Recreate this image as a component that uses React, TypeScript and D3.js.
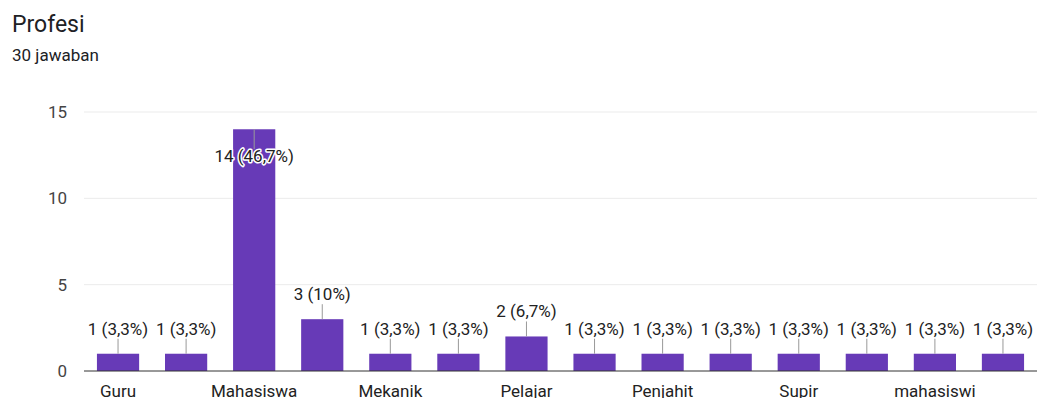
import React from "react";
import * as d3 from "d3";

const categories = [
  "Guru", "Karyawan", "Mahasiswa", "Mahasiswi", "Mekanik", "Pedagang", "Pelajar",
  "Pelaut", "Penjahit", "Petani", "Supir", "Wiraswasta", "mahasiswi", "pelajar",
];
const values = [1, 1, 14, 3, 1, 1, 2, 1, 1, 1, 1, 1, 1, 1];
const percentLabels = ["3,3%", "3,3%", "46,7%", "10%", "3,3%", "3,3%", "6,7%", "3,3%", "3,3%", "3,3%", "3,3%", "3,3%", "3,3%", "3,3%"];
const yTicks = [0, 5, 10, 15];
const title = "Profesi";
const subtitle = "30 jawaban";

const W = 1042;
const H = 398;
const left = 84;
const right = 1037;
const top = 112;
const bottom = 371;

export default function App() {
  const x = d3.scaleBand<string>().domain(categories).range([left, right]).paddingInner(0.38).paddingOuter(0.19);
  const y = d3.scaleLinear().domain([0, 15]).range([bottom, top]);
  const bw = x.bandwidth();
  const font = "Roboto, Arial, sans-serif";

  return (
    <svg width={W} height={H} style={{ position: "absolute", left: 0, top: 0, background: "#fff" }}>
      <text x={12} y={32} fontFamily={font} fontSize={23} fill="#202124">{title}</text>
      <text x={12} y={61} fontFamily={font} fontSize={17} fill="#202124">{subtitle}</text>
      {yTicks.map((t) => (
        <g key={t}>
          {t !== 0 && <line x1={left} x2={right} y1={y(t)} y2={y(t)} stroke="#ebebeb" strokeWidth={1} />}
          <text x={67} y={y(t)} dy="0.36em" textAnchor="end" fontFamily={font} fontSize={17} fill="#444">{t}</text>
        </g>
      ))}
      {categories.map((c, i) => {
        const v = values[i];
        const bx = x(c)!;
        const cx = bx + bw / 2;
        const yt = y(v);
        const label = `${v} (${percentLabels[i]})`;
        const inside = yt - 40 < top - 5;
        const ly2 = inside ? yt + 20 : yt - 15;
        const ty = inside ? yt + 33 : yt - 19;
        return (
          <g key={c}>
            <rect x={bx} y={yt} width={bw} height={bottom - yt} fill="#673ab7" />
            <line x1={cx} x2={cx} y1={yt} y2={ly2} stroke="#999" strokeWidth={1} />
            {inside && (
              <text x={cx} y={ty} textAnchor="middle" fontFamily={font} fontSize={17}
                fill="none" stroke="#fff" strokeWidth={3} strokeLinejoin="round">{label}</text>
            )}
            <text x={cx} y={ty} textAnchor="middle" fontFamily={font} fontSize={17} fill="#222">{label}</text>
            {i % 2 === 0 && (
              <text x={cx} y={397} textAnchor="middle" fontFamily={font} fontSize={17} fill="#222">{c}</text>
            )}
          </g>
        );
      })}
      <line x1={left} x2={right} y1={bottom} y2={bottom} stroke="#333" strokeWidth={1} />
    </svg>
  );
}
